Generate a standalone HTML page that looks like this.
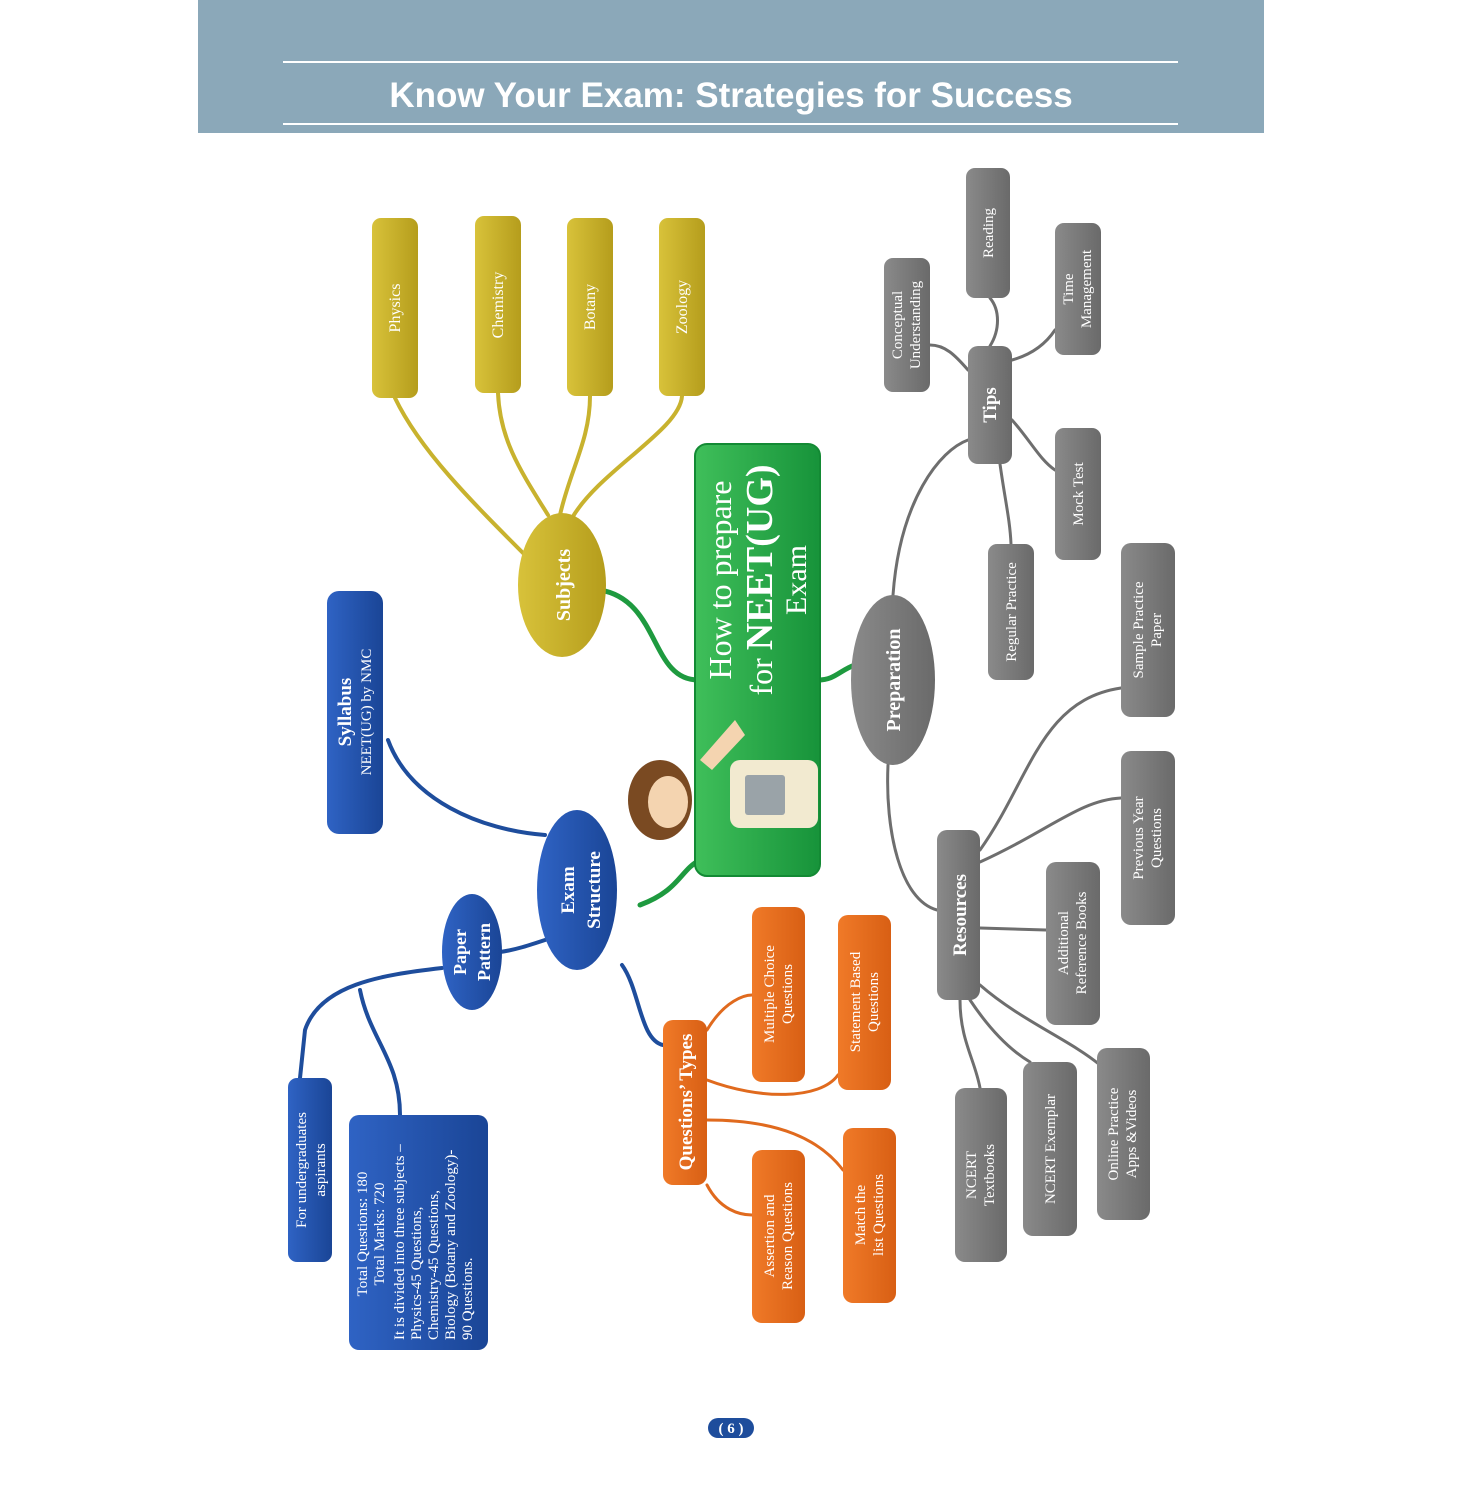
<!DOCTYPE html>
<html><head><meta charset="utf-8"><style>
html,body{margin:0;padding:0;background:#fff;}
svg{display:block;}
text{font-family:"Liberation Serif",serif;fill:#fff;}
</style></head><body>
<svg width="1463" height="1500" viewBox="0 0 1463 1500" xmlns="http://www.w3.org/2000/svg">
<defs>
<linearGradient id="gr" x1="0" y1="0" x2="1" y2="0"><stop offset="0" stop-color="#3fbf5a"/><stop offset="1" stop-color="#17933a"/></linearGradient>
<linearGradient id="gd" x1="0" y1="0" x2="1" y2="0"><stop offset="0" stop-color="#d8c23a"/><stop offset="1" stop-color="#b59d1c"/></linearGradient>
<linearGradient id="bl" x1="0" y1="0" x2="1" y2="0"><stop offset="0" stop-color="#2f63c4"/><stop offset="1" stop-color="#1a4596"/></linearGradient>
<linearGradient id="or" x1="0" y1="0" x2="1" y2="0"><stop offset="0" stop-color="#f07a28"/><stop offset="1" stop-color="#d85f14"/></linearGradient>
<linearGradient id="gy" x1="0" y1="0" x2="1" y2="0"><stop offset="0" stop-color="#8a8a8a"/><stop offset="1" stop-color="#6a6a6a"/></linearGradient>
</defs>
<!-- header -->
<rect x="198" y="0" width="1066" height="133" fill="#8ba8b9"/>
<line x1="283" y1="62" x2="1178" y2="62" stroke="#fff" stroke-width="2"/>
<line x1="283" y1="124" x2="1178" y2="124" stroke="#fff" stroke-width="2"/>
<text x="731" y="107" text-anchor="middle" style="font-family:'Liberation Sans',sans-serif;font-weight:bold;font-size:35px">Know Your Exam: Strategies for Success</text>

<!-- connectors -->
<g fill="none" stroke-linecap="round">
<g stroke="#c8b22e" stroke-width="4">
<path d="M530,560 C470,500 420,450 395,398"/>
<path d="M548,515 C520,470 500,440 498,393"/>
<path d="M560,515 C570,470 590,440 590,396"/>
<path d="M572,518 C600,470 680,430 682,396"/>
</g>
<g stroke="#1e9a3f" stroke-width="5">
<path d="M600,590 C660,600 650,680 698,680"/>
<path d="M640,905 C680,890 680,870 700,860"/>
<path d="M818,680 C835,680 840,670 855,665"/>
</g>
<g stroke="#1e4d9c" stroke-width="4">
<path d="M388,740 C410,800 480,830 545,835"/>
<path d="M545,940 C530,945 515,950 500,952"/>
<path d="M442,968 C380,975 320,985 305,1030 L300,1078"/>
<path d="M360,990 C370,1040 400,1060 400,1115"/>
<path d="M622,965 C640,990 640,1040 663,1045"/>
</g>
<g stroke="#e06a1e" stroke-width="3">
<path d="M707,1030 C725,1000 745,995 752,995"/>
<path d="M707,1080 C760,1100 820,1100 838,1075"/>
<path d="M707,1185 C720,1210 740,1215 752,1215"/>
<path d="M707,1120 C780,1120 820,1140 843,1170"/>
</g>
<g stroke="#6e6e6e" stroke-width="3">
<path d="M893,595 C900,500 940,450 968,440"/>
<path d="M968,370 C955,355 945,345 930,345"/>
<path d="M990,346 C1000,330 1000,310 990,298"/>
<path d="M1012,360 C1030,355 1045,345 1055,330"/>
<path d="M1012,420 C1030,440 1040,460 1055,470"/>
<path d="M1000,464 C1005,500 1010,520 1011,544"/>
<path d="M888,765 C885,830 900,900 937,910"/>
<path d="M980,850 C1030,780 1040,700 1121,688"/>
<path d="M980,862 C1050,830 1080,800 1121,798"/>
<path d="M980,928 L1046,930"/>
<path d="M960,1000 C960,1040 975,1060 980,1088"/>
<path d="M970,1000 C990,1030 1010,1050 1030,1062"/>
<path d="M980,985 C1020,1020 1070,1040 1100,1065"/>
</g>
</g>

<!-- subjects -->
<g fill="url(#gd)">
<rect x="372" y="218" width="46" height="180" rx="9"/>
<rect x="475" y="216" width="46" height="177" rx="9"/>
<rect x="567" y="218" width="46" height="178" rx="9"/>
<rect x="659" y="218" width="46" height="178" rx="9"/>
<ellipse cx="562" cy="585" rx="44" ry="72"/>
</g>
<g font-size="16">
<text transform="translate(400,308) rotate(-90)" text-anchor="middle">Physics</text>
<text transform="translate(503,305) rotate(-90)" text-anchor="middle">Chemistry</text>
<text transform="translate(595,307) rotate(-90)" text-anchor="middle">Botany</text>
<text transform="translate(687,307) rotate(-90)" text-anchor="middle">Zoology</text>
</g>
<text transform="translate(570,585) rotate(-90)" text-anchor="middle" font-size="20" font-weight="bold">Subjects</text>

<!-- green box -->
<rect x="695" y="444" width="125" height="432" rx="12" fill="url(#gr)" stroke="#138a34" stroke-width="2"/>
<text transform="translate(731,580) rotate(-90)" text-anchor="middle" font-size="32">How to prepare</text>
<text transform="translate(772,580) rotate(-90)" text-anchor="middle" font-size="32">for <tspan font-weight="bold" font-size="38">NEET(UG)</tspan></text>
<text transform="translate(806,580) rotate(-90)" text-anchor="middle" font-size="30">Exam</text>
<!-- character -->
<g>
<rect x="730" y="760" width="88" height="68" rx="10" fill="#f2ead0"/>
<rect x="745" y="775" width="40" height="40" rx="3" fill="#9aa3a8"/>
<path d="M700,760 L735,720 L745,735 L712,770Z" fill="#f4d4b0"/>
<ellipse cx="660" cy="800" rx="32" ry="40" fill="#7a4a22"/>
<ellipse cx="668" cy="802" rx="20" ry="26" fill="#f4d4b0"/>
</g>

<!-- blue -->
<g fill="url(#bl)">
<rect x="327" y="591" width="56" height="243" rx="12"/>
<ellipse cx="577" cy="890" rx="40" ry="80"/>
<ellipse cx="472" cy="952" rx="30" ry="58"/>
<rect x="288" y="1078" width="44" height="184" rx="9"/>
<rect x="349" y="1115" width="139" height="235" rx="10"/>
</g>
<text transform="translate(351,712) rotate(-90)" text-anchor="middle" font-size="19" font-weight="bold">Syllabus</text>
<text transform="translate(371,712) rotate(-90)" text-anchor="middle" font-size="15">NEET(UG) by NMC</text>
<text transform="translate(574,890) rotate(-90)" text-anchor="middle" font-size="19" font-weight="bold">Exam</text>
<text transform="translate(600,890) rotate(-90)" text-anchor="middle" font-size="19" font-weight="bold">Structure</text>
<text transform="translate(466,952) rotate(-90)" text-anchor="middle" font-size="18" font-weight="bold">Paper</text>
<text transform="translate(490,952) rotate(-90)" text-anchor="middle" font-size="18" font-weight="bold">Pattern</text>
<text transform="translate(306,1170) rotate(-90)" text-anchor="middle" font-size="15">For undergraduates</text>
<text transform="translate(325,1170) rotate(-90)" text-anchor="middle" font-size="15">aspirants</text>
<g font-size="15">
<text transform="translate(367,1234) rotate(-90)" text-anchor="middle">Total Questions: 180</text>
<text transform="translate(384,1234) rotate(-90)" text-anchor="middle">Total Marks: 720</text>
<text transform="translate(404,1340) rotate(-90)">It is divided into three subjects –</text>
<text transform="translate(421,1340) rotate(-90)">Physics-45 Questions,</text>
<text transform="translate(438,1340) rotate(-90)">Chemistry-45 Questions,</text>
<text transform="translate(455,1340) rotate(-90)">Biology (Botany and Zoology)-</text>
<text transform="translate(472,1340) rotate(-90)">90 Questions.</text>
</g>

<!-- orange -->
<g fill="url(#or)">
<rect x="663" y="1020" width="44" height="165" rx="10"/>
<rect x="752" y="907" width="53" height="175" rx="10"/>
<rect x="838" y="915" width="53" height="175" rx="10"/>
<rect x="752" y="1150" width="53" height="173" rx="10"/>
<rect x="843" y="1128" width="53" height="175" rx="10"/>
</g>
<text transform="translate(692,1102) rotate(-90)" text-anchor="middle" font-size="19" font-weight="bold">Questions’ Types</text>
<g font-size="15">
<text transform="translate(774,994) rotate(-90)" text-anchor="middle">Multiple Choice</text>
<text transform="translate(792,994) rotate(-90)" text-anchor="middle">Questions</text>
<text transform="translate(860,1002) rotate(-90)" text-anchor="middle">Statement Based</text>
<text transform="translate(878,1002) rotate(-90)" text-anchor="middle">Questions</text>
<text transform="translate(774,1236) rotate(-90)" text-anchor="middle">Assertion and</text>
<text transform="translate(792,1236) rotate(-90)" text-anchor="middle">Reason Questions</text>
<text transform="translate(865,1215) rotate(-90)" text-anchor="middle">Match the</text>
<text transform="translate(883,1215) rotate(-90)" text-anchor="middle">list Questions</text>
</g>

<!-- gray -->
<g fill="url(#gy)">
<ellipse cx="893" cy="680" rx="42" ry="85"/>
<rect x="968" y="346" width="44" height="118" rx="10"/>
<rect x="884" y="258" width="46" height="134" rx="9"/>
<rect x="966" y="168" width="44" height="130" rx="9"/>
<rect x="1055" y="223" width="46" height="132" rx="9"/>
<rect x="1055" y="428" width="46" height="132" rx="9"/>
<rect x="988" y="544" width="46" height="136" rx="9"/>
<rect x="1121" y="543" width="54" height="174" rx="10"/>
<rect x="1121" y="751" width="54" height="174" rx="10"/>
<rect x="937" y="830" width="43" height="170" rx="10"/>
<rect x="1046" y="862" width="54" height="163" rx="10"/>
<rect x="955" y="1088" width="52" height="174" rx="10"/>
<rect x="1023" y="1062" width="54" height="174" rx="10"/>
<rect x="1097" y="1048" width="53" height="172" rx="10"/>
</g>
<text transform="translate(900,680) rotate(-90)" text-anchor="middle" font-size="20" font-weight="bold">Preparation</text>
<text transform="translate(996,405) rotate(-90)" text-anchor="middle" font-size="19" font-weight="bold">Tips</text>
<text transform="translate(966,915) rotate(-90)" text-anchor="middle" font-size="19" font-weight="bold">Resources</text>
<g font-size="15">
<text transform="translate(902,325) rotate(-90)" text-anchor="middle">Conceptual</text>
<text transform="translate(920,325) rotate(-90)" text-anchor="middle">Understanding</text>
<text transform="translate(993,233) rotate(-90)" text-anchor="middle">Reading</text>
<text transform="translate(1073,289) rotate(-90)" text-anchor="middle">Time</text>
<text transform="translate(1091,289) rotate(-90)" text-anchor="middle">Management</text>
<text transform="translate(1083,494) rotate(-90)" text-anchor="middle">Mock Test</text>
<text transform="translate(1016,612) rotate(-90)" text-anchor="middle">Regular Practice</text>
<text transform="translate(1143,630) rotate(-90)" text-anchor="middle">Sample Practice</text>
<text transform="translate(1161,630) rotate(-90)" text-anchor="middle">Paper</text>
<text transform="translate(1143,838) rotate(-90)" text-anchor="middle">Previous Year</text>
<text transform="translate(1161,838) rotate(-90)" text-anchor="middle">Questions</text>
<text transform="translate(1068,943) rotate(-90)" text-anchor="middle">Additional</text>
<text transform="translate(1086,943) rotate(-90)" text-anchor="middle">Reference Books</text>
<text transform="translate(976,1175) rotate(-90)" text-anchor="middle">NCERT</text>
<text transform="translate(994,1175) rotate(-90)" text-anchor="middle">Textbooks</text>
<text transform="translate(1055,1149) rotate(-90)" text-anchor="middle">NCERT Exemplar</text>
<text transform="translate(1118,1134) rotate(-90)" text-anchor="middle">Online Practice</text>
<text transform="translate(1136,1134) rotate(-90)" text-anchor="middle">Apps &amp;Videos</text>
</g>

<!-- page number -->
<rect x="708" y="1418" width="46" height="20" rx="10" fill="#1e4d9c"/>
<text x="731" y="1433" text-anchor="middle" font-size="15" font-weight="bold">( 6 )</text>
</svg>
</body></html>
